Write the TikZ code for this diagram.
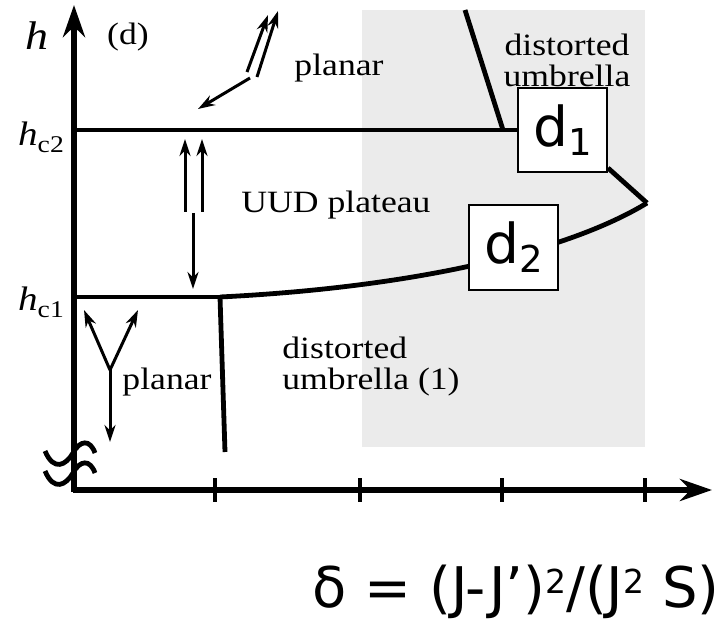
\documentclass[tikz,border=0pt]{standalone}
\usepackage{fontspec}
\setmainfont[FakeStretch=1.15]{Liberation Serif}
\newfontfamily\sansf{DejaVu Sans}
\usepackage{tikz}
\usetikzlibrary{positioning,arrows.meta,calc}
\newcommand{\sq}{\raisebox{7pt}{\fontsize{16.5}{16.5}\selectfont 2}}

\begin{document}
\begin{tikzpicture}[
  x=0.5pt, y=-0.5pt,
  ax/.style={line width=3pt, -{Stealth[length=16pt, width=11pt]}},
  ln/.style={line width=2.4pt},
  sp/.style={line width=1.5pt, -{Stealth[length=8.5pt, width=5.5pt]}},
  lbl/.style={font=\fontsize{15.5}{15.5}\selectfont, inner sep=0pt},
  bx/.style={draw, fill=white, line width=1pt, inner sep=0pt,
    minimum width=44.5pt, minimum height=42pt, font=\sansf}
]
\useasboundingbox (0,0) rectangle (722,620);
% shaded region
\fill[black!8] (362,10) rectangle (645,447);

% axes
\coordinate (o) at (74,490);
\coordinate (ytip) at (74,5);
\coordinate (xtip) at (712,490);
\draw[ax] ($(o)+(0,2)$) -- (ytip);
\draw[ax] ($(o)+(-1.5,0)$) -- (xtip);
\foreach \t in {215,360,502,645}
  \draw[line width=2.2pt] (\t,478) -- (\t,502);
% axis break
\draw[line width=2.4pt] (45,451) .. controls (54,472) and (66,465) .. (73,453)
  .. controls (80,440) and (90,439) .. (95,453);
\draw[line width=2.4pt] (45,471) .. controls (54,492) and (66,485) .. (73,473)
  .. controls (80,460) and (90,459) .. (95,473);

% phase boundaries
\coordinate (c2) at (74,130);
\coordinate (c1) at (74,297);
\coordinate (j1) at (220,297);
\coordinate (j2) at (503,130);
\coordinate (tip) at (647,203);
\node[bx] (d1) at (562.5,130) {};
\node[bx] (d2) at (513.5,247.5) {};
\draw[ln] (c2) -- (d1.west);
\draw[ln] (465,10) -- (j2);
\draw[ln] (c1) -- (j1);
\draw[ln] (j1) -- (225,452);
\draw[ln] (j1) .. controls (420,287) and (570,250) .. (tip);
\draw[ln] (tip) -- ($(d1.east)+(0,38)$);
\node[bx] at (d1) {\fontsize{27.5}{27.5}\selectfont d\raisebox{-4.5pt}{\fontsize{18.5}{18.5}\selectfont 1}};
\node[bx] at (d2) {\fontsize{27.5}{27.5}\selectfont d\raisebox{-4.5pt}{\fontsize{18.5}{18.5}\selectfont 2}};

% spins
\coordinate (s1) at (247,72);
\draw[sp] (s1) -- (268,15);
\draw[sp] (257,77) -- (278,11);
\draw[sp] (250,78) -- (198,109);
\coordinate (s2) at (193,213);
\draw[sp] (185,212) -- (185,139);
\draw[sp] (202,212) -- (202,139);
\draw[sp] (s2) -- (193,289);
\coordinate (s3) at (110,370);
\draw[sp] (s3) -- (84,310);
\draw[sp] (s3) -- (138,310);
\draw[sp] (s3) -- (110,442);

% labels
\node[lbl, font=\fontsize{20}{20}\selectfont\itshape] (hlab) at (37,36) {h};
\node[lbl] (dlab) at (128,37) {(d)};
\node[lbl] (hc2) at (41,137) {{\fontsize{17}{17}\selectfont\itshape h}\raisebox{-3.5pt}{\fontsize{12}{12}\selectfont c2}};
\node[lbl] (hc1) at (41,302) {{\fontsize{17}{17}\selectfont\itshape h}\raisebox{-3.5pt}{\fontsize{12}{12}\selectfont c1}};
\node[lbl] (pl1) at (339,68) {planar};
\node[lbl, align=center] (du) at (567,60) {distorted\\umbrella};
\node[lbl] (uud) at (336,205) {UUD plateau};
\node[lbl, align=left, anchor=west] (du1) at (282,367) {distorted\\umbrella (1)};
\node[lbl] (pl2) at (167,382) {planar};
\node[font=\sansf\fontsize{28}{28}\selectfont, inner sep=0pt, anchor=base east]
  (delta) at (720,607) {δ = (J-J’)\sq/(J\sq{} S)};
\end{tikzpicture}
\end{document}
